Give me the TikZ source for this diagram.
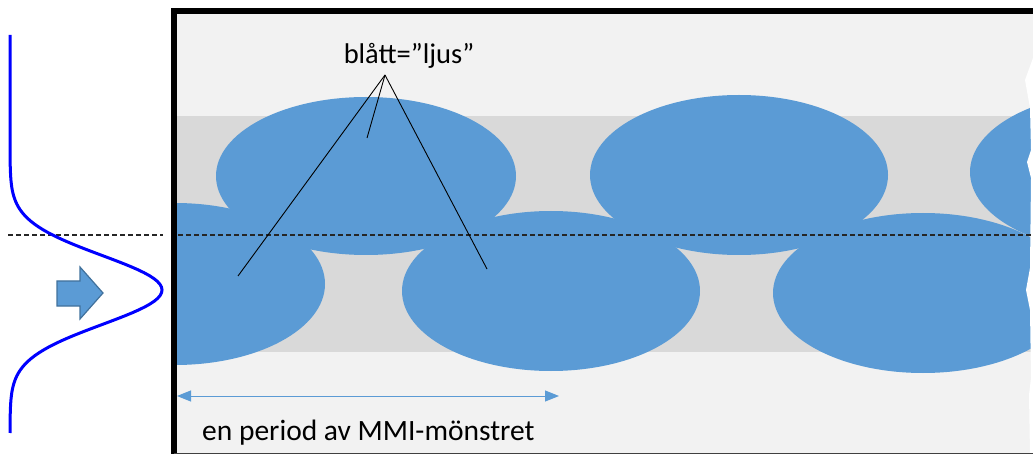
\documentclass[tikz,border=0pt]{standalone}
\usepackage{fontspec}
\setmainfont{Carlito}
\usetikzlibrary{arrows.meta,positioning}

\definecolor{ljusbla}{HTML}{5B9BD5}
\definecolor{kantbla}{HTML}{41719C}
\definecolor{ljusgra}{HTML}{F2F2F2}
\definecolor{mellangra}{HTML}{D9D9D9}

\begin{document}
\begin{tikzpicture}[x=1pt,y=-1pt,
  lobe/.style={fill=ljusbla},
  pekare/.style={black,line width=0.9pt},
  mitt/.style={black!85,line width=1.1pt,dash pattern=on 5pt off 3pt},
  gauss/.style={blue,line width=3pt},
  matt/.style={ljusbla,line width=1pt,{Triangle[length=14pt,width=11pt]}-{Triangle[length=14pt,width=11pt]}},
  etikett/.style={font=\fontsize{28.5}{34}\selectfont,inner sep=0pt}]
\useasboundingbox (0,0) rectangle (1033,454);

% MMI-sektionen
\begin{scope}
\clip (172,8) rectangle (1033,454);
\fill[ljusgra] (172,8) rectangle (1033,454);
\fill[mellangra] (172,116) rectangle (1033,352);
\fill[lobe] (366,176) ellipse [x radius=150,y radius=79];
\fill[lobe] (739,175) ellipse [x radius=149,y radius=80];
\fill[lobe] (1120,172) ellipse [x radius=150,y radius=80];
\fill[lobe] (175,284) ellipse [x radius=150,y radius=81];
\fill[lobe] (551,291) ellipse [x radius=149,y radius=80];
\fill[lobe] (923,293) ellipse [x radius=150,y radius=80];
% avriven kant
\fill[white] (1033,58) -- (1025,80) -- (1030,108) -- (1031,150) -- (1027,162)
  -- (1031,178) -- (1030,268) -- (1026,290) -- (1030,310) -- (1031,378)
  -- (1029,395) -- (1030,454) -- (1033,454) -- cycle;
\end{scope}
\draw[line width=6.5pt] (174,454) -- (174,11.25) -- (1033,11.25);
\draw[black!75,line width=1pt] (174,453.5) -- (1033,453.5);

\draw[mitt] (8,235) -- (163,235);
\draw[mitt] (178,235) -- (1033,235);

% infallande mod
\draw[gauss] plot[domain=35:433,samples=140] ({10+152*exp(-(((\x-290)/10)^2)/23.8)},\x);
\filldraw[fill=ljusbla,draw=kantbla,line width=1.2pt]
  (57,281) -- (80,281) -- (80,267) -- (103,293) -- (80,319) -- (80,306) -- (57,306) -- cycle;

% texter
\node[etikett] (blatt) at (409,56) {blått=”ljus”};
\coordinate (fot) at (385,75);
\coordinate (ljusA) at (238,276);
\coordinate (ljusB) at (367,138);
\coordinate (ljusC) at (487,269);
\draw[pekare] (fot) -- (ljusA);
\draw[pekare] (fot) -- (ljusB);
\draw[pekare] (fot) -- (ljusC);

\coordinate (pStart) at (177,396);
\coordinate (pSlut) at (559,396);
\draw[matt] (pStart) -- (pSlut);
\node[etikett,font=\fontsize{29.5}{35}\selectfont,anchor=base west] (period) at (202,440) {en period av MMI-mönstret};
\end{tikzpicture}
\end{document}
